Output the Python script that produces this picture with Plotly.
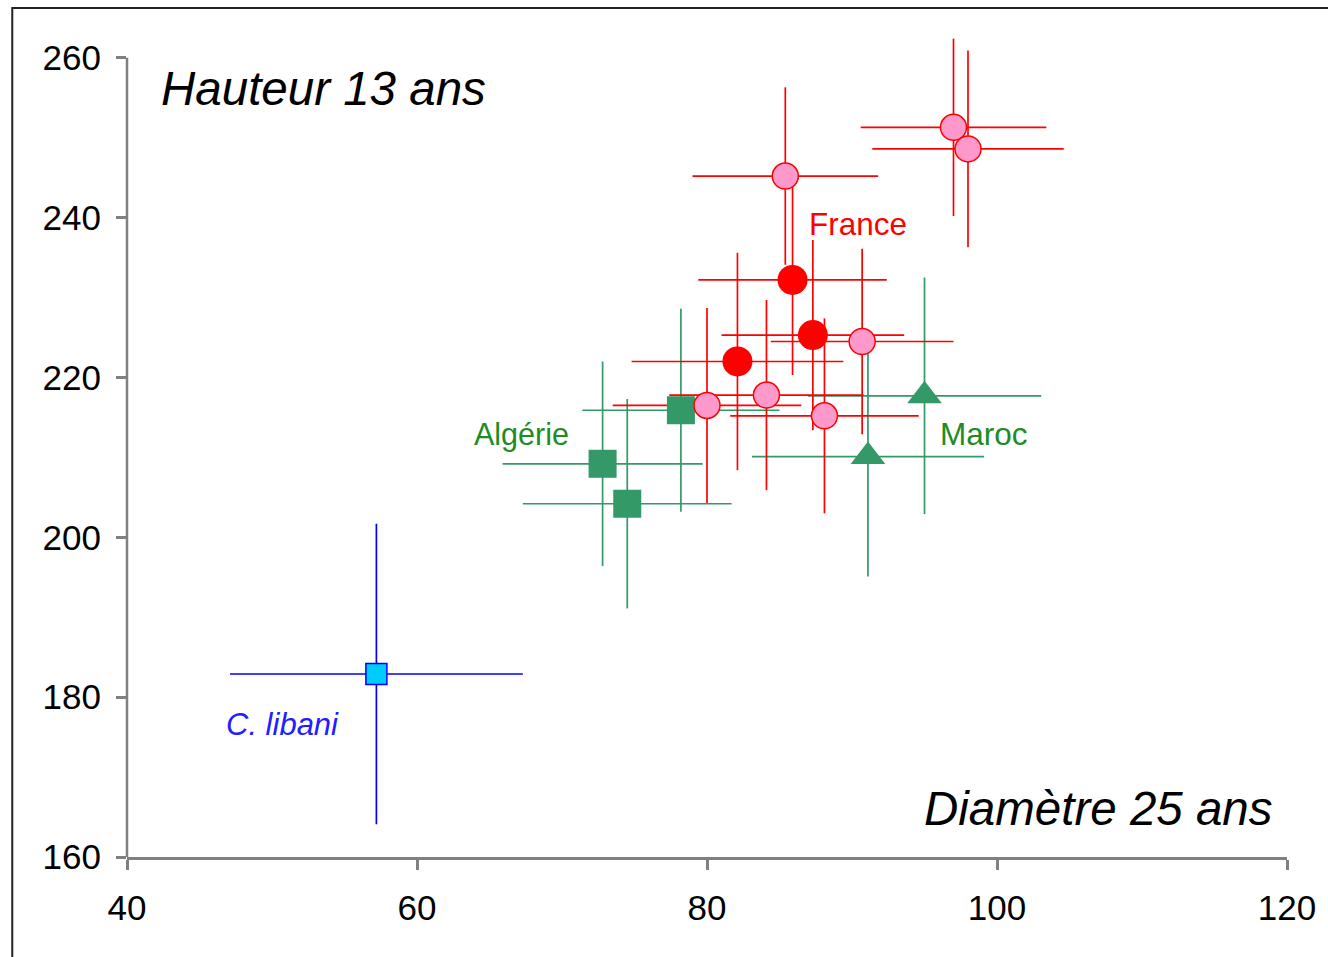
import plotly.graph_objects as go

# ---------------- data ----------------
# France, pink circles
france_pink_x = [85.4, 97.0, 98.0, 90.7, 80.0, 84.1, 88.1]
france_pink_y = [245.2, 251.3, 248.6, 224.5, 216.5, 217.8, 215.2]
france_pink_xerr = [6.4, 6.4, 6.6, 6.3, 6.5, 6.7, 6.5]
france_pink_yerr = [11.1, 11.1, 12.3, 11.6, 12.2, 11.9, 12.2]

# France, red circles
france_red_x = [85.9, 87.3, 82.1]
france_red_y = [232.2, 225.3, 222.0]
france_red_xerr = [6.5, 6.3, 7.3]
france_red_yerr = [11.9, 11.9, 13.6]

# Algérie, green squares
algerie_x = [72.8, 74.5, 78.2]
algerie_y = [209.2, 204.2, 215.9]
algerie_xerr = [6.9, 7.2, 6.8]
algerie_yerr = [12.8, 13.1, 12.7]

# Maroc, green triangles
maroc_x = [91.1, 95.0]
maroc_y = [210.1, 217.7]
maroc_xerr = [8.0, 8.05]
maroc_yerr = [15.0, 14.8]

# Cedrus libani, cyan square
libani_x = [57.2]
libani_y = [182.9]
libani_xerr = [10.1]
libani_yerr = [18.8]

x_ticks = [40, 60, 80, 100, 120]
y_ticks = [160, 180, 200, 220, 240, 260]
y_axis_span = [160, 260]

# ---------------- styles ----------------
RED = "#FF0000"
PINK = "#FF99CC"
GREEN = "#339966"
BLUE = "#0000FF"
CYAN = "#00CCFF"
AXIS = "#808080"
LABEL_GREEN = "#1E8C1E"
FONT = "Liberation Sans, Arial, sans-serif"

fig = go.Figure()


def bars(x, y, xe, ye, color):
    fig.add_trace(go.Scatter(
        x=x, y=y, mode="markers",
        marker=dict(size=0, opacity=0),
        error_x=dict(type="data", array=xe, visible=True, color=color,
                     thickness=1.7, width=0),
        error_y=dict(type="data", array=ye, visible=True, color=color,
                     thickness=1.7, width=0),
        cliponaxis=False, showlegend=False, hoverinfo="skip"))


# error bars first (below all markers)
bars(libani_x, libani_y, libani_xerr, libani_yerr, BLUE)
bars(algerie_x, algerie_y, algerie_xerr, algerie_yerr, GREEN)
bars(maroc_x, maroc_y, maroc_xerr, maroc_yerr, GREEN)
bars(france_red_x, france_red_y, france_red_xerr, france_red_yerr, RED)
bars(france_pink_x, france_pink_y, france_pink_xerr, france_pink_yerr, RED)

# markers
fig.add_trace(go.Scatter(
    x=algerie_x, y=algerie_y, mode="markers", cliponaxis=False, showlegend=False,
    marker=dict(symbol="square", size=28, color=GREEN, line=dict(width=0))))
fig.add_trace(go.Scatter(
    x=maroc_x, y=maroc_y, mode="markers", cliponaxis=False, showlegend=False,
    marker=dict(symbol="triangle-up", size=30, color=GREEN, line=dict(width=0))))
fig.add_trace(go.Scatter(
    x=france_red_x, y=france_red_y, mode="markers", cliponaxis=False, showlegend=False,
    marker=dict(symbol="circle", size=30, color=RED, line=dict(width=0))))
fig.add_trace(go.Scatter(
    x=france_pink_x, y=france_pink_y, mode="markers", cliponaxis=False, showlegend=False,
    marker=dict(symbol="circle", size=26, color=PINK, line=dict(width=1.5, color=RED))))
fig.add_trace(go.Scatter(
    x=libani_x, y=libani_y, mode="markers", cliponaxis=False, showlegend=False,
    marker=dict(symbol="square", size=21, color=CYAN, line=dict(width=1.5, color=BLUE))))


# ---------------- annotations ----------------
def label(text, x, y, color, size, italic=False, xanchor="left"):
    fig.add_annotation(
        x=x, y=y, xref="x", yref="y", text=text, showarrow=False,
        xanchor=xanchor, yanchor="middle",
        font=dict(family=FONT, size=size, color=color,
                  style="italic" if italic else "normal"))


label("Hauteur 13 ans", 42.2, 256.1, "#000000", 47.5, italic=True)
label("Diamètre 25 ans", 119.2, 166.1, "#000000", 47.5, italic=True, xanchor="right")
label("France", 86.9, 239.2, RED, 31.5)
label("Algérie", 63.8, 212.9, LABEL_GREEN, 30.5)
label("Maroc", 95.9, 212.9, LABEL_GREEN, 31.5)
label("C. libani", 46.7, 176.6, "#2020FF", 31, italic=True)

# outer frame (extends past the right and bottom edges of the picture)
fig.add_shape(type="rect", xref="paper", yref="paper",
              x0=-0.0989, y0=-0.3, x1=1.2, y1=1.0354,
              line=dict(color="#222222", width=2), fillcolor="rgba(0,0,0,0)")

# y axis line drawn only over the labelled span (plot area is a bit taller so
# that the top error bars are not clipped)
fig.add_shape(type="line", xref="paper", yref="y",
              x0=0, x1=0, y0=y_axis_span[0], y1=y_axis_span[1],
              line=dict(color=AXIS, width=2.5))

axis_common = dict(
    showgrid=False, zeroline=False,
    ticks="outside", ticklen=10, tickwidth=2.5, tickcolor=AXIS,
    tickfont=dict(family=FONT, size=35, color="#000000"),
)

fig.update_xaxes(range=[40, 120], tickvals=x_ticks, ticktext=[str(v) for v in x_ticks],
                 showline=True, linecolor=AXIS, linewidth=2.5,
                 ticklabelstandoff=8, **axis_common)
fig.update_yaxes(range=[160, 262.6], tickvals=y_ticks, ticktext=[str(v) for v in y_ticks],
                 showline=False, ticklabelstandoff=8, **axis_common)

fig.update_layout(
    width=1328, height=957,
    margin=dict(l=127, r=36, t=37, b=100),
    paper_bgcolor="white", plot_bgcolor="white",
    showlegend=False,
)

fig.write_html("out.html")
